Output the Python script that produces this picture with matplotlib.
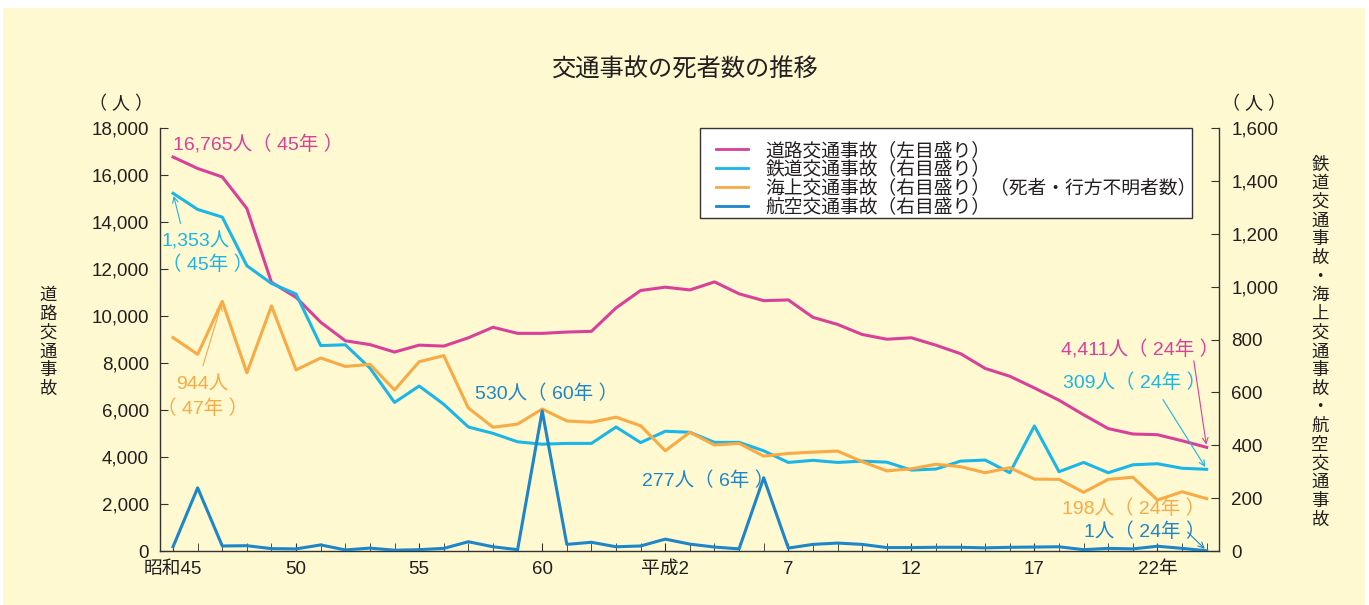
import matplotlib.pyplot as plt
import matplotlib.patches as patches
from matplotlib.lines import Line2D
from matplotlib.ticker import FuncFormatter

plt.rcParams['font.family'] = ['Liberation Sans', 'Noto Sans CJK JP', 'DejaVu Sans']
cjk = ['Noto Sans CJK JP', 'DejaVu Sans']

# 昭和45年(1970) ～ 平成24年(2012)
years = list(range(43))
xlabels = ['昭和45', '50', '55', '60', '平成2', '7', '12', '17', '22年']
xlabel_pos = [0, 5, 10, 15, 20, 25, 30, 35, 40]

road = [16765, 16278, 15918, 14574, 11432, 10792, 9734, 8945, 8783, 8466,
        8760, 8719, 9073, 9520, 9262, 9261, 9317, 9347, 10344, 11086,
        11227, 11109, 11452, 10945, 10653, 10684, 9943, 9642, 9214, 9012,
        9073, 8757, 8396, 7768, 7436, 6937, 6415, 5796, 5209, 4979,
        4948, 4691, 4411]
rail = [1353, 1292, 1263, 1079, 1012, 972, 777, 780, 692, 562,
        624, 555, 469, 445, 413, 404, 407, 407, 469, 410,
        453, 449, 411, 411, 379, 335, 343, 335, 340, 336,
        306, 310, 340, 344, 296, 473, 300, 335, 296, 326,
        330, 313, 309]
sea = [807, 744, 944, 674, 927, 685, 730, 698, 706, 609,
       716, 739, 541, 468, 480, 537, 492, 487, 506, 474,
       379, 449, 401, 407, 359, 369, 374, 378, 338, 303,
       311, 328, 319, 296, 315, 272, 271, 222, 271, 279,
       193, 224, 198]
air = [16, 239, 19, 20, 9, 8, 23, 4, 11, 3,
       5, 10, 35, 16, 5, 530, 25, 33, 16, 19,
       45, 26, 15, 8, 277, 11, 25, 30, 25, 13,
       13, 14, 14, 12, 14, 15, 16, 5, 10, 8,
       18, 10, 1]

names = ['道路交通事故（左目盛り）', '鉄道交通事故（右目盛り）',
         '海上交通事故（右目盛り）（死者・行方不明者数）', '航空交通事故（右目盛り）']

c_road = '#D8409A'
c_rail = '#1BB5E7'
c_sea = '#F8AA44'
c_air = '#1C86C9'
bg = '#FEF9D1'
txt = '#231F20'

fig = plt.figure(figsize=(13.69, 6.05), dpi=100, facecolor='white')
fig.patches.append(patches.Rectangle((3 / 1369, 0), 1362 / 1369, 597 / 605,
                                     transform=fig.transFigure, facecolor=bg,
                                     edgecolor='none', zorder=-10))

ax = fig.add_axes([160 / 1369, 54 / 605, 1059 / 1369, 423 / 605])
ax.set_facecolor('none')
ax2 = ax.twinx()

ax.plot(years, road, color=c_road, lw=2.2)
ax2.plot(years, rail, color=c_rail, lw=2.2)
ax2.plot(years, sea, color=c_sea, lw=2.2)
ax2.plot(years, air, color=c_air, lw=2.2)

ax.set_xlim(-0.53, 42.5)
ax.set_ylim(0, 18000)
ax2.set_ylim(0, 1600)
ax.set_yticks(range(0, 18001, 2000))
ax2.set_yticks(range(0, 1601, 200))
fmt = FuncFormatter(lambda v, p: f'{int(v):,}')
ax.yaxis.set_major_formatter(fmt)
ax2.yaxis.set_major_formatter(fmt)

ax.set_xticks(years, minor=True)
ax.set_xticks(xlabel_pos)
ax.set_xticklabels(xlabels)

for a in (ax, ax2):
    a.spines['top'].set_visible(False)
    for s in a.spines.values():
        s.set_color('#333333')
        s.set_linewidth(1.0)
ax.spines['right'].set_visible(False)
ax2.spines['left'].set_visible(False)
ax2.spines['bottom'].set_visible(False)

ax.tick_params(axis='both', which='both', direction='in', length=6, color='#333333',
               labelcolor=txt)
ax.tick_params(axis='y', pad=8, labelsize=13.5)
ax.tick_params(axis='x', pad=7, labelsize=13.5)
ax2.tick_params(axis='y', direction='in', length=6, color='#333333',
                labelsize=13.5, labelcolor=txt, pad=9)

# titles and axis labels
fig.text(684 / 1369, 1 - 70 / 605, '交通事故の死者数の推移', ha='center', va='center',
         fontsize=17.5, color=txt, family=cjk)
fig.text(121 / 1369, 1 - 104 / 605, '（ 人 ）', ha='center', va='center', fontsize=13, color=txt)
fig.text(1254 / 1369, 1 - 104 / 605, '（ 人 ）', ha='center', va='center', fontsize=13, color=txt)
fig.text(48 / 1369, 1 - 342 / 605, '\n'.join('道路交通事故'), ha='center', va='center',
         fontsize=12.5, color=txt, linespacing=1.05, family=cjk)
fig.text(1320 / 1369, 1 - 342 / 605, '\n'.join('鉄道交通事故・海上交通事故・航空交通事故'),
         ha='center', va='center', fontsize=12.5, color=txt, linespacing=1.05, family=cjk)

# legend (frame drawn separately)
ax2.add_patch(patches.Rectangle((540 / 1059, 333 / 423), 492 / 1059, 90 / 423,
                                transform=ax2.transAxes, facecolor='white',
                                edgecolor='#333333', lw=1.0, zorder=4, clip_on=False))
handles = [Line2D([], [], color=c, lw=2) for c in (c_road, c_rail, c_sea, c_air)]
leg = ax2.legend(handles, names, loc='upper left', bbox_to_anchor=(556 / 1059, 0.967),
                 borderaxespad=0, borderpad=0, fontsize=13.5, frameon=False,
                 labelspacing=0.05, handlelength=1.7, handletextpad=0.95)
leg.set_zorder(5)
for t in leg.get_texts():
    t.set_color(txt)

# annotations
fs = 14
ax2.text(0, 1535, '16,765人（ 45年 ）', color=c_road, fontsize=fs, ha='left', va='center')
ax2.text(-0.45, 1206, '1,353人\n（ 45年 ）', color=c_rail, fontsize=fs, ha='left', va='top',
         linespacing=1.35)
ax2.annotate('', xy=(0, 1353), xytext=(0.33, 1229),
             arrowprops=dict(arrowstyle='->', color=c_rail, lw=0.8))
ax2.text(1.18, 659, '944人\n（ 47年 ）', color=c_sea, fontsize=fs, ha='center', va='top',
         linespacing=1.35)
ax2.annotate('', xy=(2, 944), xytext=(1.18, 690),
             arrowprops=dict(arrowstyle='->', color=c_sea, lw=0.8))
ax2.text(12.28, 594, '530人（ 60年 ）', color=c_air, fontsize=fs, ha='left', va='center')
ax2.text(19.07, 265, '277人（ 6年 ）', color=c_air, fontsize=fs, ha='left', va='center')
ax2.text(36.06, 760, '4,411人（ 24年 ）', color=c_road, fontsize=fs, ha='left', va='center')
ax2.annotate('', xy=(42, 4411 / 11.25), xytext=(41.46, 730),
             arrowprops=dict(arrowstyle='->', color=c_road, lw=0.8))
ax2.text(36.18, 635, '309人（ 24年 ）', color=c_rail, fontsize=fs, ha='left', va='center')
ax2.annotate('', xy=(42, 309), xytext=(40.16, 582),
             arrowprops=dict(arrowstyle='->', color=c_rail, lw=0.8))
ax2.text(36.14, 159, '198人（ 24年 ）', color=c_sea, fontsize=fs, ha='left', va='center')
ax2.text(37.0, 72, '1人（ 24年 ）', color=c_air, fontsize=fs, ha='left', va='center')
ax2.annotate('', xy=(42, 1), xytext=(41.14, 79),
             arrowprops=dict(arrowstyle='->', color=c_air, lw=0.8))

fig.savefig('out.png', dpi=100, facecolor=fig.get_facecolor())
